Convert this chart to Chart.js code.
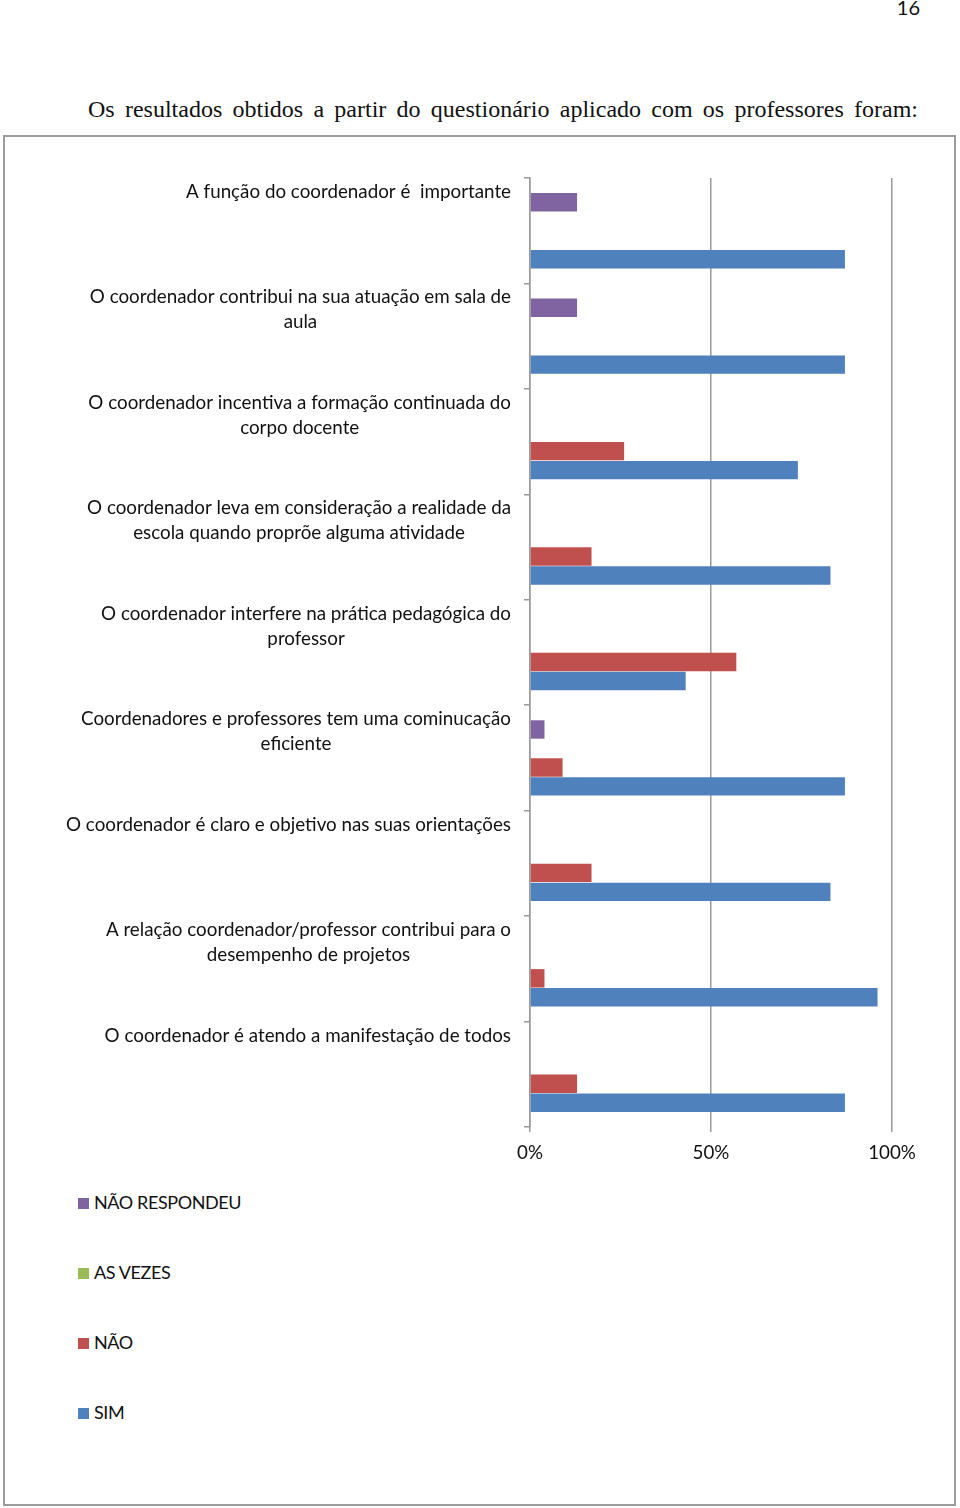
<!DOCTYPE html>
<html>
<head>
<meta charset="utf-8">
<script src="https://cdn.jsdelivr.net/npm/chart.js@4"></script>
<style>
  html, body { margin: 0; padding: 0; background: #fff; }
  body { width: 960px; height: 1508px; position: relative; overflow: hidden; }
  #pagenum { position: absolute; left: 880px; width: 40px; text-align: right; top: -5px;
    font-family: Lato, sans-serif; font-size: 20px; color: #111; }
  #title { position: absolute; left: 88px; width: 830px; top: 96px;
    font-family: "Liberation Serif", "Times New Roman", serif; font-size: 24px; color: #111;
    text-align: justify; text-align-last: justify; white-space: nowrap; }
  #frame { position: absolute; left: 3px; top: 135px; width: 953px; height: 1371px;
    box-sizing: border-box; border: 2px solid #9c9c9c; }
  #chart { position: absolute; left: 0; top: 0; }
  .leg { position: absolute; left: 78px; font-family: Lato, sans-serif; font-size: 18px; color: #111;
    line-height: 24px; letter-spacing: -0.4px; }
  .leg span.sw { display: inline-block; width: 11px; height: 11px; margin-right: 5px; vertical-align: 0px; }
</style>
</head>
<body>
<div id="pagenum">16</div>
<div id="title">Os resultados obtidos a partir do questionário aplicado com os professores foram:</div>
<div id="frame"></div>
<canvas id="chart" width="960" height="1180"></canvas>
<div id="legend"></div>
<script>
const categories = [
  ["A função do coordenador é  importante"],
  ["O coordenador contribui na sua atuação em sala de", "aula"],
  ["O coordenador incentiva a formação continuada do", "corpo docente"],
  ["O coordenador leva em consideração a realidade da", "escola quando proprõe alguma atividade"],
  ["O coordenador interfere na prática pedagógica do", "professor"],
  ["Coordenadores e professores tem uma cominucação", "eficiente"],
  ["O coordenador é claro e objetivo nas suas orientações"],
  ["A relação coordenador/professor contribui para o", "desempenho de projetos"],
  ["O coordenador é atendo a manifestação de todos"]
];
const seriesNames = ["NÃO RESPONDEU", "AS VEZES", "NÃO", "SIM"];
const naoRespondeu = [13, 13, 0, 0, 0, 4, 0, 0, 0];
const asVezes      = [0, 0, 0, 0, 0, 0, 0, 0, 0];
const nao          = [0, 0, 26, 17, 57, 9, 17, 4, 13];
const sim          = [87, 87, 74, 83, 43, 87, 83, 96, 87];
const xTicks = [0, 50, 100];
const colors = ["#8064A2", "#9BBB59", "#C0504D", "#4F81BD"];

const LABEL_FONT = '18.8px Lato';
const axisGray = '#9a9a9a';

const labelPlugin = {
  id: 'catLabels',
  afterDraw(chart) {
    const ys = chart.scales.y;
    const ctx = chart.ctx;
    const band = (ys.getPixelForValue(1) - ys.getPixelForValue(0));
    ctx.save();
    ctx.font = LABEL_FONT;
    ctx.fillStyle = '#111';
    ctx.textAlign = 'center';
    ctx.textBaseline = 'middle';
    const rightEdge = 511;
    categories.forEach((lines, i) => {
      const top = ys.getPixelForValue(i) - band / 2;
      const w = Math.max(...lines.map(l => ctx.measureText(l).width));
      const cx = rightEdge - w / 2;
      lines.forEach((l, j) => ctx.fillText(l, cx, top + 14 + j * 25));
    });
    ctx.restore();
  }
};

const datasets = [naoRespondeu, asVezes, nao, sim].map((d, i) => ({
  label: seriesNames[i], data: d, backgroundColor: colors[i], borderWidth: 0,
  categoryPercentage: 0.72, barPercentage: 0.97
}));

new Chart(document.getElementById('chart'), {
  type: 'bar',
  data: { labels: categories.map(c => c.join(' ')), datasets },
  options: {
    indexAxis: 'y',
    responsive: false,
    animation: false,
    layout: { padding: { top: 178, left: 0, right: 68, bottom: 0 } },
    plugins: { legend: { display: false }, tooltip: { enabled: false } },
    scales: {
      x: {
        min: 0, max: 100,
        afterBuildTicks(scale) { scale.ticks = xTicks.map(v => ({ value: v })); },
        afterFit(scale) { scale.height = 53; },
        ticks: { callback: v => v + '%', font: { family: 'Lato', size: 18.8 }, color: '#111', padding: 10, maxRotation: 0 },
        grid: { color: axisGray, lineWidth: 1.5, drawTicks: true, tickLength: 5 },
        border: { display: false }
      },
      y: {
        afterFit(scale) { scale.width = 530; },
        ticks: { callback: () => '' },
        grid: { drawOnChartArea: false, drawTicks: true, tickLength: 6, color: axisGray, lineWidth: 1.5, offset: true },
        border: { display: true, color: axisGray, width: 1.5 }
      }
    }
  },
  plugins: [labelPlugin]
});

const legendTops = [1202, 1272, 1342, 1412];
const legend = document.getElementById('legend');
seriesNames.forEach((n, i) => {
  const d = document.createElement('div');
  d.className = 'leg';
  d.style.top = (legendTops[i] - 12) + 'px';
  d.innerHTML = '<span class="sw" style="background:' + colors[i] + '"></span>' + n;
  legend.appendChild(d);
});
</script>
</body>
</html>
